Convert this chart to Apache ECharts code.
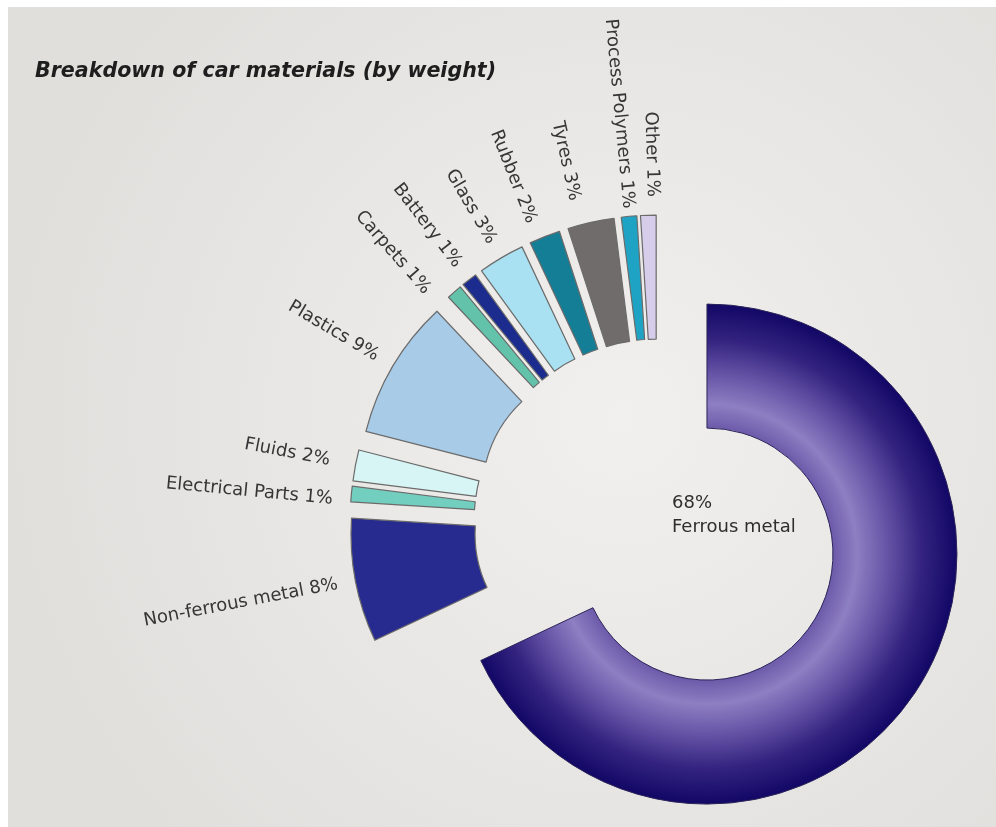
<!DOCTYPE html>
<html>
<head>
<meta charset="utf-8">
<script src="https://cdn.jsdelivr.net/npm/echarts@6/dist/echarts.min.js"></script>
<style>
  html, body { margin: 0; padding: 0; background: #ffffff; width: 996px; height: 827px; overflow: hidden; }
  #chart { position: absolute; left: 8px; top: 7px; width: 988px; height: 820px; }
</style>
</head>
<body>
<div id="chart"></div>
<script>
// ---- data ----
const titleText = 'Breakdown of car materials (by weight)';
const materials = ['Ferrous metal', 'Non-ferrous metal', 'Electrical Parts', 'Fluids', 'Plastics', 'Carpets', 'Battery', 'Glass', 'Rubber', 'Tyres', 'Process Polymers', 'Other'];
const shares = [68, 8, 1, 2, 9, 1, 1, 3, 2, 3, 1, 1];
const colors = ['#2a1d86', '#272a8e', '#72cfc0', '#d8f5f6', '#a8cbe8', '#62c3aa', '#1b2b8e', '#a9e1f2', '#147e96', '#716c6c', '#1fa3c4', '#d5cdea'];

const chart = echarts.init(document.getElementById('chart'), null, { renderer: 'canvas' });

const CX = 650, CY = 516, R0 = 126, R1 = 250;

// label placement tweaks: len = radial gap, shift = sideways shift in text frame (px, + = below)
const labelTweaks = {
  'Electrical Parts': { shift: 7 },
  'Fluids': { len: 26 },
  'Carpets': { shift: 20 },
  'Rubber': { shift: 7 },
  'Tyres': { shift: 11, len: 25 },
  'Process Polymers': { len: 8 },
  'Other': { shift: -5 }
};

const baseFont = { fontFamily: 'DejaVu Sans', fontSize: 18, color: '#363636', lineHeight: 22 };

const ferrousFill = {
  type: 'radial', x: CX, y: CY, r: R1, global: true,
  colorStops: [
    { offset: 0.0, color: '#5f4d9f' },
    { offset: 0.5, color: '#6b59a9' },
    { offset: 0.6, color: '#8e7ec2' },
    { offset: 0.72, color: '#6654a6' },
    { offset: 0.86, color: '#33237f' },
    { offset: 1.0, color: '#120766' }
  ]
};

const data = materials.map((name, i) => {
  const item = {
    name: name,
    value: shares[i],
    selected: true,
    itemStyle: { color: colors[i], borderColor: '#6b6b6b', borderWidth: 1.2 }
  };
  const t = labelTweaks[name] || {};
  const shift = t.shift || 0;
  item.label = {
    formatter: function (p) {
      const txt = '{t|' + p.name + ' ' + p.value + '%}';
      if (shift > 0) return '{sp| }\n' + txt;
      if (shift < 0) return txt + '\n{sp| }';
      return txt;
    },
    rich: {
      t: baseFont,
      sp: { fontSize: 2, lineHeight: Math.abs(shift) * 2 || 1 }
    }
  };
  if (t.len !== undefined) item.labelLine = { length: t.len };
  if (i === 0) {
    item.itemStyle = { color: ferrousFill, borderColor: '#2a2458', borderWidth: 1 };
    item.label = {
      position: 'center',
      rotate: 0,
      padding: [0, 0, 78, 62],
      formatter: '{a|{c}%}\n{b|{b}}',
      rich: {
        a: { width: 132, align: 'left', fontSize: 18, fontFamily: 'DejaVu Sans', color: '#2e2e2e', lineHeight: 24 },
        b: { width: 132, align: 'left', fontSize: 18, fontFamily: 'DejaVu Sans', color: '#2e2e2e', lineHeight: 24 }
      }
    };
  }
  return item;
});

chart.setOption({
  backgroundColor: {
    type: 'radial', x: 0.62, y: 0.5, r: 0.75,
    colorStops: [
      { offset: 0, color: '#f1f0ee' },
      { offset: 1, color: '#e1dfdc' }
    ]
  },
  title: {
    text: titleText,
    left: 27,
    top: 54,
    padding: 0,
    textStyle: { fontFamily: 'DejaVu Sans', fontSize: 20.6, fontStyle: 'italic', fontWeight: 'bold', color: '#1e1e1e' }
  },
  animation: false,
  series: [{
    type: 'pie',
    center: [CX, CY],
    radius: [R0, R1],
    startAngle: 90,
    clockwise: true,
    selectedMode: 'multiple',
    selectedOffset: 58,
    avoidLabelOverlap: false,
    labelLayout: { hideOverlap: false },
    emphasis: { disabled: true },
    label: {
      show: true,
      position: 'outside',
      rotate: 'radial',
      fontFamily: 'DejaVu Sans',
      fontSize: 18,
      color: '#363636',
      distanceToLabelLine: 0
    },
    labelLine: { show: false, length: 18, length2: 0 },
    data: data
  }]
});
</script>
</body>
</html>
